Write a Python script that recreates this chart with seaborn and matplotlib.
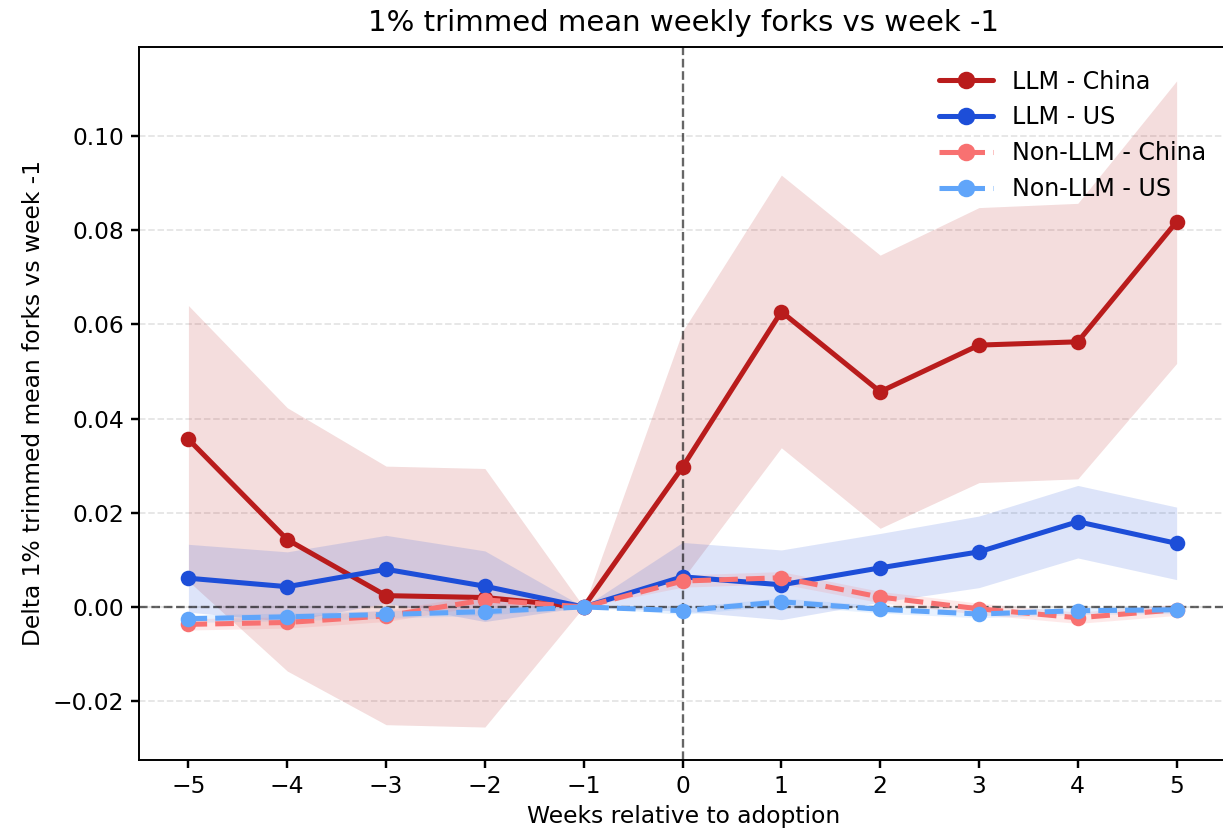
import matplotlib
matplotlib.use('Agg')
import matplotlib.pyplot as plt
import numpy as np
import pandas as pd
import seaborn as sns

weeks = [-5, -4, -3, -2, -1, 0, 1, 2, 3, 4, 5]

llm_china = [0.0356, 0.0143, 0.0024, 0.0020, 0.0, 0.0297, 0.0627, 0.0457, 0.0556, 0.0563, 0.0818]
llm_china_lo = [0.0055, -0.0136, -0.0250, -0.0255, 0.0, 0.0059, 0.0338, 0.0167, 0.0264, 0.0272, 0.0517]
llm_china_hi = [0.0640, 0.0423, 0.0299, 0.0294, 0.0, 0.0585, 0.0917, 0.0747, 0.0848, 0.0857, 0.1117]

llm_us = [0.0061, 0.0043, 0.0080, 0.0044, 0.0, 0.0064, 0.0047, 0.0083, 0.0117, 0.0181, 0.0135]
llm_us_lo = [-0.0011, -0.0031, 0.0008, -0.0031, 0.0, -0.0009, -0.0027, 0.0010, 0.0041, 0.0104, 0.0058]
llm_us_hi = [0.0133, 0.0117, 0.0152, 0.0119, 0.0, 0.0137, 0.0121, 0.0156, 0.0193, 0.0258, 0.0212]

non_china = [-0.0037, -0.0033, -0.0019, 0.0015, 0.0, 0.0055, 0.0062, 0.0021, -0.0004, -0.0023, -0.0006]
non_china_lo = [-0.0049, -0.0045, -0.0031, 0.0003, 0.0, 0.0042, 0.0049, 0.0009, -0.0016, -0.0035, -0.0018]
non_china_hi = [-0.0025, -0.0021, -0.0007, 0.0027, 0.0, 0.0068, 0.0075, 0.0033, 0.0008, -0.0011, 0.0006]

non_us = [-0.0025, -0.0021, -0.0016, -0.0010, 0.0, -0.0008, 0.0011, -0.0005, -0.0015, -0.0008, -0.0006]
non_us_lo = [-0.0033, -0.0029, -0.0024, -0.0018, 0.0, -0.0016, 0.0003, -0.0013, -0.0023, -0.0016, -0.0014]
non_us_hi = [-0.0017, -0.0013, -0.0008, -0.0002, 0.0, 0.0000, 0.0019, 0.0003, -0.0007, 0.0000, 0.0002]

groups = ['LLM - China', 'LLM - US', 'Non-LLM - China', 'Non-LLM - US']
colors = {'LLM - China': '#b91c1c', 'LLM - US': '#1d4ed8',
          'Non-LLM - China': '#f87171', 'Non-LLM - US': '#60a5fa'}

means = [llm_china, llm_us, non_china, non_us]
lows = [llm_china_lo, llm_us_lo, non_china_lo, non_us_lo]
highs = [llm_china_hi, llm_us_hi, non_china_hi, non_us_hi]

rows = []
for g, m, lo, hi in zip(groups, means, lows, highs):
    for w, v, a, b in zip(weeks, m, lo, hi):
        rows.append({'week': w, 'delta': v, 'lo': a, 'hi': b, 'group': g,
                     'llm': 'LLM' if g.startswith('LLM') else 'Non-LLM'})
df = pd.DataFrame(rows)

sns.set_theme(style='ticks')
plt.rcParams['font.family'] = ['DejaVu Sans']
plt.rcParams['text.color'] = 'black'
plt.rcParams['axes.labelcolor'] = 'black'
plt.rcParams['xtick.color'] = 'black'
plt.rcParams['ytick.color'] = 'black'

fig = plt.figure(figsize=(1223 / 140, 837 / 140), dpi=140)
ax = fig.add_axes([139 / 1223, 1 - 760 / 837, 1090 / 1223, (760 - 47) / 837])

for g in groups:
    d = df[df['group'] == g]
    ax.fill_between(d['week'], d['lo'], d['hi'], color=colors[g], alpha=0.15, linewidth=0)

sns.lineplot(data=df, x='week', y='delta', hue='group', hue_order=groups,
             style='llm', style_order=['LLM', 'Non-LLM'], dashes={'LLM': '', 'Non-LLM': (3.7, 1.6)},
             markers={'LLM': 'o', 'Non-LLM': 'o'}, markeredgewidth=0, markersize=8,
             palette=colors, linewidth=2.6, ax=ax, legend=False)

ax.axhline(0, color='black', linestyle='--', linewidth=1.2, alpha=0.6, zorder=1)
ax.axvline(0, color='black', linestyle='--', linewidth=1.2, alpha=0.6, zorder=1)
ax.yaxis.grid(True, linestyle='--', color='#e4e4e4', linewidth=0.9)
ax.set_axisbelow(True)

ax.set_xlim(-5.5, 5.53)
ax.set_ylim(-0.0325, 0.1189)
ax.set_xticks(weeks)
ax.tick_params(labelsize=12, length=4, color='black', labelcolor='black')
for s in ax.spines.values():
    s.set_color('black')
    s.set_linewidth(1.0)

ax.set_xlabel('Weeks relative to adoption', fontsize=12)
ax.set_ylabel('Delta 1% trimmed mean forks vs week -1', fontsize=12)
ax.set_title('1% trimmed mean weekly forks vs week -1', fontsize=15, pad=8)

handles = []
for g in groups:
    ls = '-' if g.startswith('LLM') else '--'
    h, = ax.plot([], [], color=colors[g], linestyle=ls, linewidth=2.6, marker='o', markersize=8)
    handles.append(h)
ax.legend(handles, groups, loc='upper right', frameon=False, fontsize=12.2,
          handlelength=2.3, borderaxespad=0.55)

fig.savefig('out.png', dpi=140)
